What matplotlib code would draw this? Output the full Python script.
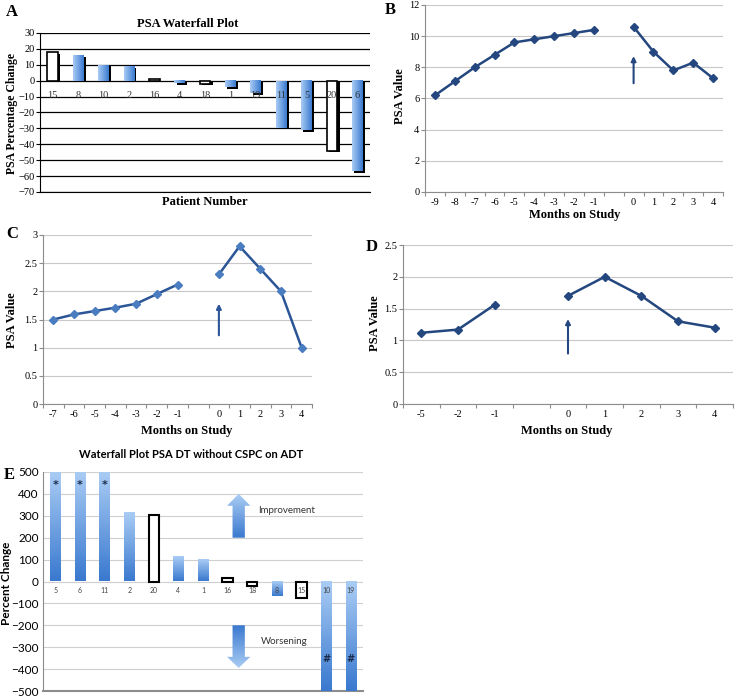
import numpy as np
import matplotlib.pyplot as plt
from matplotlib.colors import LinearSegmentedColormap
from matplotlib.patches import Polygon


# data

a_patients = ["15", "8", "10", "2", "16", "4", "18", "1", "19", "11", "5", "20", "6"]
a_change = [18, 16, 10, 9, 1, -1.5, -2, -4, -8, -29.5, -31, -44, -57]
a_open = [1, 0, 0, 0, 1, 0, 1, 0, 0, 0, 0, 1, 0]

b_months = ["-9", "-8", "-7", "-6", "-5", "-4", "-3", "-2", "-1", "", "0", "1", "2", "3", "4"]
b_psa = [6.2, 7.1, 8.0, 8.8, 9.6, 9.8, 10.0, 10.2, 10.4, np.nan, 10.6, 9.0, 7.8, 8.3, 7.3]
b_arrow = [6.8, 8.9]

c_months = ["-7", "-6", "-5", "-4", "-3", "-2", "-1", "", "0", "1", "2", "3", "4"]
c_psa = [1.5, 1.59, 1.65, 1.71, 1.78, 1.95, 2.12, np.nan, 2.3, 2.8, 2.4, 2.0, 1.0]
c_arrow = [1.17, 1.83]

d_months = ["-5", "-2", "-1", "", "0", "1", "2", "3", "4"]
d_psa = [1.12, 1.17, 1.56, np.nan, 1.7, 2.0, 1.7, 1.3, 1.2]
d_arrow = [0.75, 1.38]

e_patients = ["5", "6", "11", "2", "20", "4", "1", "16", "18", "8", "15", "10", "19"]
e_change = [500, 500, 500, 315, 305, 112, 100, 15, -20, -65, -75, -500, -500]
e_open = [0, 0, 0, 0, 1, 0, 0, 1, 1, 0, 1, 0, 0]
e_star = ["*", "*", "*", "", "", "", "", "", "", "", "", "#", "#"]
e_up = [200, 346, 400]       # body bottom, head base, tip
e_down = [-200, -344, -395]

serif = "Liberation Serif"
sans = "Lato"
grey = "#8c8c8c"

blues = LinearSegmentedColormap.from_list("b", ["#a9ccf4", "#3a79cf"])


def grad_rect(ax, x0, x1, y0, y1, horizontal, z=2):
    g = np.linspace(0, 1, 64)
    if horizontal:
        img = g[None, :]
    else:
        img = g[:, None]
    ax.imshow(img, extent=[x0, x1, y0, y1], origin="upper" if not horizontal else "lower",
              cmap=blues, aspect="auto", zorder=z, interpolation="bilinear")


fig = plt.figure(figsize=(7.35, 6.97), dpi=100)


def fx(px):
    return px / 735


def fy(py):
    return 1 - py / 697


# ---------------- A ----------------
axA = fig.add_axes([fx(40), fy(192), fx(330), fy(33) - fy(192)])
w = 0.42
for i, v in enumerate(a_change):
    lo, hi = min(0, v), max(0, v)
    axA.bar(i + 0.09, hi - lo, bottom=lo - 1.0, width=w, color="black", zorder=2)
    if a_open[i]:
        axA.bar(i, hi - lo, bottom=lo, width=w, color="white", edgecolor="black", lw=1.2, zorder=3)
    else:
        grad_rect(axA, i - w / 2, i + w / 2, lo, hi, True, z=3)
    axA.text(i, -9.3, a_patients[i], ha="center", va="center", fontsize=7.5,
             family=serif, color="#333333", zorder=4)
axA.set_xlim(-0.5, 12.5)
axA.set_ylim(-70, 30)
axA.set_yticks(np.arange(-70, 31, 10))
axA.grid(axis="y", color="black", lw=0.9)
axA.set_axisbelow(True)
axA.set_xticks([])
for s in ["top", "right"]:
    axA.spines[s].set_visible(False)
axA.spines["left"].set_color("black")
axA.spines["bottom"].set_color("black")
axA.tick_params(axis="y", labelsize=7.5, length=3, pad=1)
for t in axA.get_yticklabels():
    t.set_family(serif)
fig.text(fx(188), fy(24), "PSA Waterfall Plot", ha="center", va="center",
         fontsize=9, weight="bold", family=serif)
fig.text(fx(12), fy(113), "PSA Percentage Change", ha="center", va="center",
         rotation=90, fontsize=8.5, weight="bold", family=serif)
fig.text(fx(205), fy(202), "Patient Number", ha="center", va="center",
         fontsize=9, weight="bold", family=serif)


# ---------------- line panels ----------------
def line_panel(rect, labels, vals, arrow, ymax, ystep, mcol, lcol, gap):
    ax = fig.add_axes(rect)
    x = np.arange(len(labels))
    v = np.array(vals, dtype=float)
    ax.plot(x[:gap], v[:gap], color=lcol, lw=1.8, marker="D", ms=4.5, mfc=mcol, mec=mcol, zorder=3)
    ax.plot(x[gap + 1:], v[gap + 1:], color=lcol, lw=1.8, marker="D", ms=4.5, mfc=mcol, mec=mcol, zorder=3)
    ax.annotate("", xy=(gap + 1, arrow[1]), xytext=(gap + 1, arrow[0]),
                arrowprops=dict(arrowstyle="-|>", color=lcol, lw=1.5, mutation_scale=7), zorder=3)
    ax.set_xlim(-0.5, len(labels) - 0.5)
    ax.set_ylim(0, ymax)
    ax.set_yticks(np.arange(0, ymax + ystep / 2, ystep))
    ax.set_yticklabels([f"{t:g}" for t in np.arange(0, ymax + ystep / 2, ystep)])
    ax.set_xticks(np.arange(len(labels) + 1) - 0.5)
    ax.set_xticklabels([])
    ax.set_xticks(x, minor=True)
    ax.set_xticklabels(labels, minor=True)
    ax.tick_params(axis="x", which="major", length=3, color=grey)
    ax.tick_params(axis="x", which="minor", length=0, labelsize=7.5, pad=4)
    ax.tick_params(axis="y", length=3, color=grey, labelsize=7.5, pad=1)
    for t in ax.get_xticklabels(minor=True) + ax.get_yticklabels():
        t.set_family(serif)
    ax.grid(axis="y", color="#c8c8c8", lw=0.8)
    ax.set_axisbelow(True)
    for s in ["top", "right"]:
        ax.spines[s].set_visible(False)
    ax.spines["left"].set_color(grey)
    ax.spines["bottom"].set_color(grey)
    return ax


axB = line_panel([fx(425), fy(192), fx(298), fy(5) - fy(192)], b_months, b_psa, b_arrow,
                 12, 2, "#24477f", "#24477f", 9)
fig.text(fx(400), fy(96), "PSA Value", ha="center", va="center", rotation=90,
         fontsize=9, weight="bold", family=serif)
fig.text(fx(575), fy(215), "Months on Study", ha="center", va="center",
         fontsize=9, weight="bold", family=serif)

axC = line_panel([fx(43), fy(404), fx(269), fy(235) - fy(404)], c_months, c_psa, c_arrow,
                 3, 0.5, "#4a7cc0", "#2b5596", 7)
fig.text(fx(12), fy(320), "PSA Value", ha="center", va="center", rotation=90,
         fontsize=9, weight="bold", family=serif)
fig.text(fx(187), fy(431), "Months on Study", ha="center", va="center",
         fontsize=9, weight="bold", family=serif)

axD = line_panel([fx(403), fy(404), fx(330), fy(245) - fy(404)], d_months, d_psa, d_arrow,
                 2.5, 0.5, "#24477f", "#24477f", 3)
fig.text(fx(375), fy(323), "PSA Value", ha="center", va="center", rotation=90,
         fontsize=9, weight="bold", family=serif)
fig.text(fx(567), fy(431), "Months on Study", ha="center", va="center",
         fontsize=9, weight="bold", family=serif)


# ---------------- E ----------------
axE = fig.add_axes([fx(43), fy(691), fx(320), fy(472) - fy(691)])
w = 0.42
for i, v in enumerate(e_change):
    lo, hi = min(0, v), max(0, v)
    if e_open[i]:
        axE.bar(i, hi - lo, bottom=lo, width=w, color="white", edgecolor="black", lw=1.5, zorder=3)
    else:
        grad_rect(axE, i - w / 2, i + w / 2, lo, hi, False, z=3)
    axE.text(i, -42, e_patients[i], ha="center", va="center", fontsize=5, family=sans,
             color="#444444", zorder=4)
    if e_star[i] == "*":
        axE.text(i, 440, "*", ha="center", va="center", fontsize=8, weight="bold", color="#1a2a4a", zorder=4)
    elif e_star[i] == "#":
        axE.text(i, -355, "#", ha="center", va="center", fontsize=7, weight="bold", color="#1a2a4a", zorder=4)

ax_x = 7.45
bw, hw = 0.25, 0.47
up = Polygon([(ax_x - bw, e_up[0]), (ax_x - bw, e_up[1]), (ax_x - hw, e_up[1]), (ax_x, e_up[2]),
              (ax_x + hw, e_up[1]), (ax_x + bw, e_up[1]), (ax_x + bw, e_up[0])],
             closed=True, facecolor="none", edgecolor="none")
axE.add_patch(up)
im = axE.imshow(np.linspace(0, 1, 64)[:, None], extent=[ax_x - hw, ax_x + hw, e_up[0], e_up[2]],
                cmap=blues, aspect="auto", origin="upper", zorder=3)
im.set_clip_path(up)
dn = Polygon([(ax_x - bw, e_down[0]), (ax_x - bw, e_down[1]), (ax_x - hw, e_down[1]), (ax_x, e_down[2]),
              (ax_x + hw, e_down[1]), (ax_x + bw, e_down[1]), (ax_x + bw, e_down[0])],
             closed=True, facecolor="none", edgecolor="none")
axE.add_patch(dn)
im2 = axE.imshow(np.linspace(0, 1, 64)[:, None], extent=[ax_x - hw, ax_x + hw, e_down[2], e_down[0]],
                 cmap=blues.reversed(), aspect="auto", origin="upper", zorder=3)
im2.set_clip_path(dn)
axE.text(9.4, 326, "Improvement", ha="center", va="center", fontsize=7, family=sans, color="#333333")
axE.text(9.3, -276, "Worsening", ha="center", va="center", fontsize=7, family=sans, color="#333333")

axE.set_xlim(-0.5, 12.5)
axE.set_ylim(-500, 500)
axE.set_yticks(np.arange(-500, 501, 100))
axE.set_xticks([])
axE.grid(axis="y", color="#cfcfcf", lw=0.8)
axE.set_axisbelow(True)
for s in ["top", "right"]:
    axE.spines[s].set_visible(False)
axE.spines["left"].set_color(grey)
axE.spines["bottom"].set_color(grey)
axE.spines["bottom"].set_linewidth(1.5)
axE.tick_params(axis="y", labelsize=8.5, length=0, pad=3)
for t in axE.get_yticklabels():
    t.set_family(sans)
fig.text(fx(191), fy(455), "Waterfall Plot PSA DT without CSPC on ADT", ha="center", va="center",
         fontsize=8, weight="bold", family=sans)
fig.text(fx(7), fy(583), "Percent Change", ha="center", va="center", rotation=90,
         fontsize=8.5, weight="bold", family=sans)

# panel letters
for lab, px, py in [("A", 12, 12), ("B", 390, 10), ("C", 12, 234), ("D", 372, 247), ("E", 9, 475)]:
    fig.text(fx(px), fy(py), lab, ha="center", va="center", fontsize=12, weight="bold", family=serif)

fig.savefig("out.png", dpi=100)
